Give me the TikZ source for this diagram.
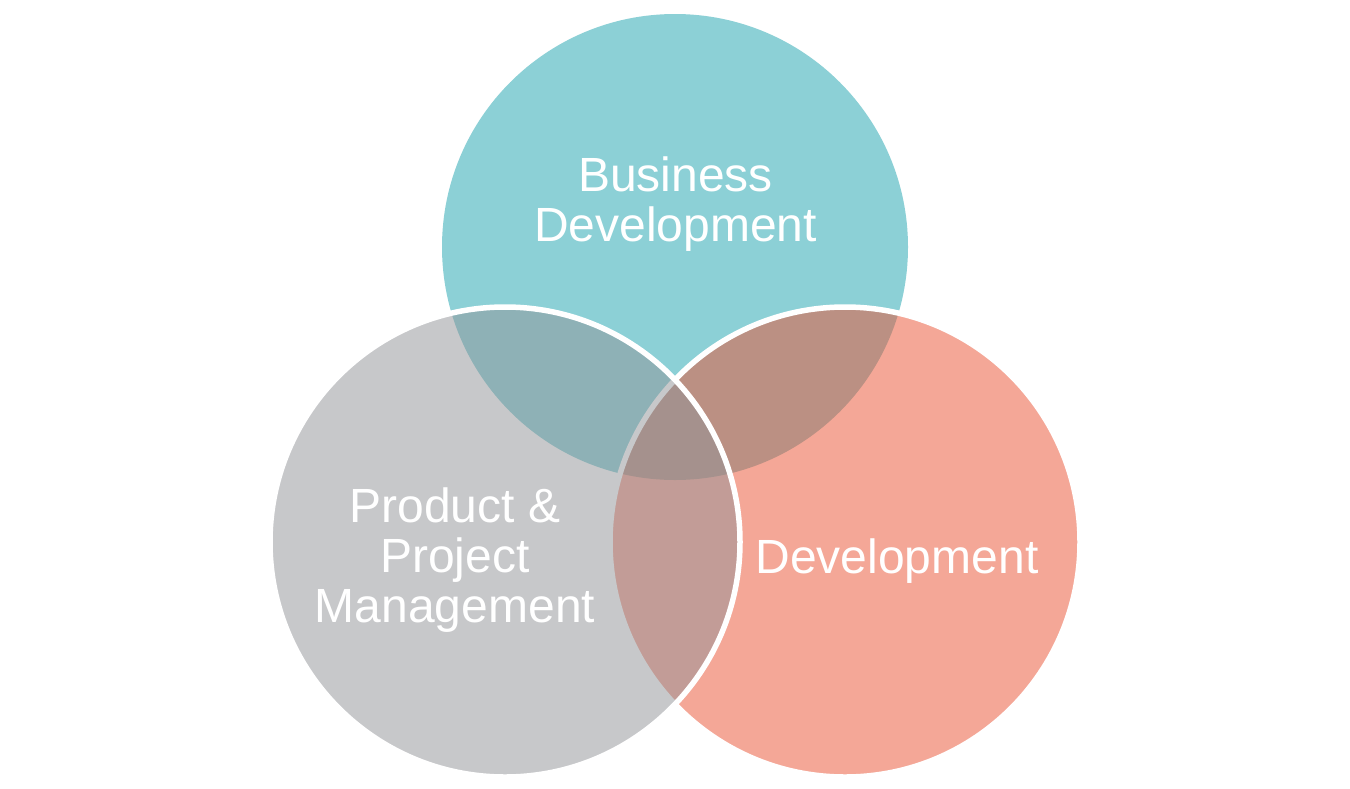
\documentclass[tikz,border=0pt]{standalone}
\usepackage{fontspec}
\setmainfont{Liberation Sans}
\definecolor{tealfill}{RGB}{140,208,214}
\definecolor{salmonbase}{RGB}{235,81,49}
\definecolor{graybase}{RGB}{145,147,151}
\begin{document}
\begin{tikzpicture}[x=0.5pt,y=-0.5pt,
  venn/.style={circle, inner sep=0pt, outer sep=0pt},
  bordered/.style={venn, minimum size=235pt, draw=white, line width=2.75pt, fill opacity=0.5, draw opacity=1},
  lbl/.style={text=white, inner sep=0pt, outer sep=0pt, anchor=base,
    font=\fontsize{24}{25}\selectfont}]
\useasboundingbox (0,0) rectangle (1350,788);
\fill[white] (0,0) rectangle (1350,788);
% circles
\node[venn, minimum size=233pt, fill=tealfill] (bizc) at (675,247) {};
\node[bordered, fill=salmonbase] (devc) at (845,542) {};
\node[bordered, fill=graybase] (ppmc) at (505,542) {};
% labels
\node[lbl] (bizl) at (675.5,241) {\begin{tabular}[b]{@{}c@{}}Business\\Development\end{tabular}};
\node[lbl] (ppml) at (455,622) {\begin{tabular}[b]{@{}c@{}}Product \&\\Project\\Management\end{tabular}};
\node[lbl] (devl) at (897,573) {Development};
\end{tikzpicture}
\end{document}
